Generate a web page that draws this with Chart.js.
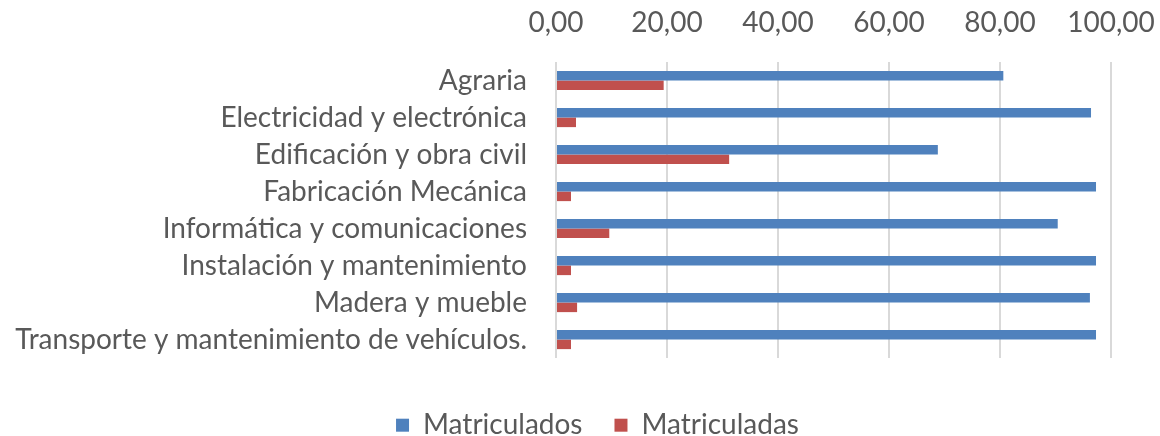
<!DOCTYPE html>
<html>
<head>
<meta charset="utf-8">
<script src="https://cdn.jsdelivr.net/npm/chart.js"></script>
<style>
    body { margin: 0; background: #fff; }
    .chart_wrapper { width: 1160px; height: 436px; }
</style>
</head>
<body>
<div class="chart_wrapper"><canvas id="myChart"></canvas></div>
<script>
// datos
const familias = ['Agraria', 'Electricidad y electrónica', 'Edificación y obra civil', 'Fabricación Mecánica',
    'Informática y comunicaciones', 'Instalación y mantenimiento', 'Madera y mueble', 'Transporte y mantenimiento de vehículos.'];
const matriculados = [80.6, 96.4, 68.8, 97.3, 90.4, 97.3, 96.2, 97.3];
const matriculadas = [19.4, 3.6, 31.2, 2.7, 9.6, 2.7, 3.8, 2.7];
const ejeTicks = [0, 20, 40, 60, 80, 100];

function coma(v){
    return v.toFixed(2).replace('.', ',');
}

// la leyenda: alto fijo abajo y un poco corrida a la derecha
const legendFix = {
    id: 'legendFix',
    afterInit(chart){
        const fit = chart.legend.fit;
        chart.legend.fit = function(){
            fit.call(this);
            this.height = 78;
        };
        const draw = chart.legend.draw;
        chart.legend.draw = function(){
            const c = this.ctx;
            c.save();
            c.translate(42, 0);
            draw.apply(this, arguments);
            c.restore();
        };
    }
};

function showGraph(){
    let ctx = document.getElementById('myChart').getContext('2d');
    Chart.defaults.font.family = 'Lato';
    Chart.defaults.color = '#595959';

    let data = {
        labels: familias,
        datasets: [{
            label: 'Matriculados',
            data: matriculados,
            backgroundColor: '#4F81BD',
            categoryPercentage: 0.52,
            barPercentage: 1.0
        }, {
            label: 'Matriculadas',
            data: matriculadas,
            backgroundColor: '#C0504D',
            categoryPercentage: 0.52,
            barPercentage: 1.0
        }]
    };

    new Chart(ctx, {
        type: 'bar',
        data: data,
        plugins: [legendFix],
        options: {
            indexAxis: 'y',
            responsive: true,
            maintainAspectRatio: false,
            animation: false,
            layout: { padding: { top: 0, right: 49, bottom: 0, left: 0 } },
            scales: {
                x: {
                    position: 'top',
                    min: 0,
                    max: 100,
                    afterBuildTicks: function(scale){
                        scale.ticks = ejeTicks.map(v => ({ value: v }));
                    },
                    afterFit: function(scale){
                        scale.height = 62;
                        scale.paddingLeft = 0;
                        scale.paddingRight = 0;
                    },
                    border: { display: false },
                    grid: { color: '#d9d9d9', lineWidth: 2, drawTicks: false },
                    ticks: {
                        font: { size: 28 },
                        padding: 22,
                        callback: function(v){ return coma(v); }
                    }
                },
                y: {
                    afterFit: function(scale){ scale.width = 556; },
                    border: { display: false },
                    grid: { display: false, drawTicks: false },
                    ticks: {
                        font: { size: 28 },
                        padding: 29,
                        autoSkip: false
                    }
                }
            },
            plugins: {
                legend: {
                    position: 'bottom',
                    title: { display: true, text: ' ', font: { size: 1 }, padding: 10 },
                    labels: {
                        font: { size: 28 },
                        boxWidth: 13,
                        boxHeight: 13,
                        padding: 32
                    }
                },
                tooltip: { enabled: false }
            }
        }
    });
}

showGraph();
</script>
</body>
</html>
